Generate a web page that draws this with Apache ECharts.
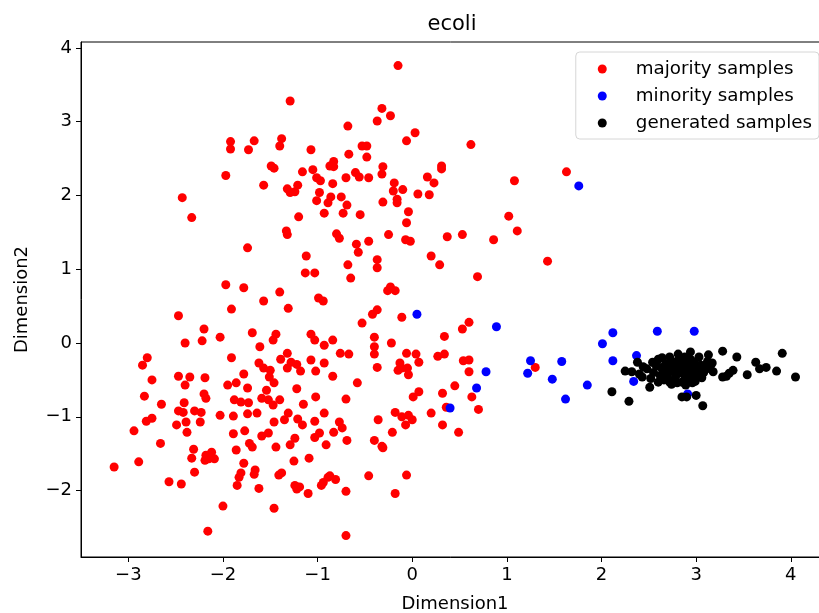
<!DOCTYPE html>
<html>
<head>
<meta charset="utf-8">
<script src="https://cdn.jsdelivr.net/npm/echarts@6/dist/echarts.min.js"></script>
<style>
  html, body { margin: 0; padding: 0; background: #fff; }
  #chart { width: 819px; height: 613px; }
</style>
</head>
<body>
<div id="chart"></div>
<script>
// tick labels
var xTicks = [-3, -2, -1, 0, 1, 2, 3, 4];
var yTicks = [-2, -1, 0, 1, 2, 3, 4];

// majority samples (red)
var majority = [
  [-1.29,3.28],[-1.92,2.73],[-1.92,2.63],[-1.67,2.74],[-1.73,2.62],[-1.38,2.77],[-1.40,2.67],[-1.07,2.62],
  [-1.49,2.40],[-1.46,2.37],[-1.97,2.27],[-1.57,2.14],[-1.16,2.32],[-1.05,2.35],[-1.01,2.24],[-0.97,2.20],
  [-1.32,2.09],[-1.29,2.04],[-1.21,2.14],[-1.24,2.05],[-0.98,2.04],[-1.01,1.93],[-2.43,1.97],[-2.33,1.70],
  [-1.20,1.71],[-0.93,1.76],[-0.89,1.90],[-0.87,2.40],[-0.15,3.76],[-0.32,3.18],[-0.23,3.08],[-0.37,3.01],
  [-0.68,2.94],[0.03,2.85],[-0.06,2.74],[0.62,2.69],[-0.53,2.67],[-0.48,2.67],[-0.67,2.56],[-0.48,2.52],
  [-0.83,2.46],[-0.83,2.39],[-0.70,2.24],[-0.60,2.31],[-0.56,2.25],[-0.46,2.24],[-0.31,2.39],[-0.32,2.29],
  [0.31,2.40],[0.31,2.36],[0.16,2.25],[0.23,2.17],[1.08,2.20],[-0.84,2.16],[-0.19,2.17],[-0.86,1.98],
  [-0.75,1.98],[-0.69,1.87],[-0.20,2.06],[-0.10,2.08],[-0.16,1.95],[-0.16,1.90],[0.06,2.02],[0.18,2.01],
  [-0.31,1.91],[-0.04,1.78],[-0.73,1.76],[-0.55,1.74],[1.02,1.72],[1.63,2.32],[-1.33,1.52],[-1.32,1.47],
  [-1.74,1.29],[-1.12,1.18],[-1.13,0.95],[-1.03,0.95],[-1.97,0.79],[-1.78,0.75],[-1.40,0.69],[-1.57,0.57],
  [-0.99,0.61],[-0.94,0.57],[-1.91,0.46],[-1.31,0.47],[-2.47,0.37],[-2.20,0.19],[-2.40,0.00],[-2.22,0.03],
  [-2.03,0.08],[-1.69,0.14],[-1.44,0.12],[-1.47,0.04],[-1.07,0.12],[-1.03,0.04],[-0.93,-0.03],[-1.61,-0.05],
  [-2.80,-0.20],[-2.85,-0.30],[-1.91,-0.20],[-1.32,-0.14],[-1.39,-0.22],[-1.28,-0.26],[-1.22,-0.29],[-1.32,-0.34],
  [-1.18,-0.38],[-1.07,-0.23],[-1.02,-0.38],[-0.93,-0.27],[-1.62,-0.27],[-1.57,-0.34],[-1.50,-0.37],[-1.78,-0.42],
  [-2.47,-0.45],[-2.35,-0.46],[-2.19,-0.47],[-2.75,-0.50],[-0.06,1.63],[1.11,1.52],[-0.80,1.48],[-0.77,1.42],
  [-0.59,1.34],[-0.57,1.23],[-0.46,1.38],[-0.25,1.47],[-0.07,1.40],[-0.02,1.38],[0.37,1.44],[0.53,1.47],
  [0.86,1.40],[-0.68,1.06],[-0.65,0.88],[-0.37,1.13],[-0.37,1.02],[0.20,1.18],[0.29,1.06],[0.69,0.90],
  [1.43,1.11],[-0.23,0.76],[-0.26,0.71],[-0.18,0.71],[-0.37,0.45],[-0.42,0.39],[-0.11,0.35],[-0.53,0.27],
  [0.60,0.28],[0.53,0.19],[-0.84,0.04],[-0.40,0.08],[-0.22,0.00],[0.34,0.09],[-0.40,-0.05],[-0.40,-0.15],
  [-0.76,-0.14],[-0.67,-0.15],[-0.06,-0.14],[0.04,-0.15],[0.07,-0.26],[0.27,-0.18],[0.34,-0.15],[0.54,-0.24],
  [0.60,-0.23],[-0.37,-0.33],[-0.13,-0.27],[-0.11,-0.34],[-0.15,-0.37],[-0.04,-0.43],[-0.05,-0.34],[-0.84,-0.45],
  [0.60,-0.39],[1.30,-0.33],[-2.40,-0.57],[-1.95,-0.57],[-1.86,-0.54],[-1.74,-0.61],[-1.51,-0.46],[-1.46,-0.54],
  [-1.22,-0.62],[-1.02,-0.73],[-2.83,-0.72],[-2.65,-0.83],[-2.41,-0.81],[-2.47,-0.92],[-2.42,-0.94],[-2.30,-0.92],
  [-2.23,-0.94],[-2.20,-0.69],[-2.18,-0.75],[-2.03,-0.98],[-1.89,-0.99],[-1.88,-0.77],[-1.81,-0.80],[-1.73,-0.81],
  [-1.59,-0.75],[-1.52,-0.77],[-1.47,-0.84],[-1.40,-0.77],[-1.54,-0.64],[-1.64,-0.95],[-1.74,-0.96],[-1.46,-1.07],
  [-1.35,-1.04],[-1.31,-0.95],[-1.21,-1.03],[-1.16,-1.11],[-1.15,-0.83],[-1.03,-1.06],[-0.93,-0.95],[-2.94,-1.19],
  [-2.81,-1.06],[-2.75,-1.02],[-2.49,-1.11],[-2.39,-1.07],[-2.38,-1.21],[-2.24,-1.07],[-2.66,-1.36],[-1.89,-1.23],
  [-1.77,-1.19],[-1.59,-1.26],[-1.52,-1.22],[-1.72,-1.36],[-1.69,-1.41],[-1.86,-1.45],[-1.44,-1.41],[-1.29,-1.38],
  [-1.24,-1.29],[-1.03,-1.28],[-0.98,-1.22],[-0.91,-1.38],[-2.31,-1.44],[-2.33,-1.56],[-2.18,-1.52],[-2.12,-1.48],
  [-2.09,-1.57],[-2.15,-1.57],[-2.19,-1.59],[-3.15,-1.68],[-2.89,-1.61],[-2.30,-1.75],[-1.78,-1.63],[-1.81,-1.76],
  [-1.83,-1.82],[-1.66,-1.72],[-1.67,-1.78],[-1.25,-1.60],[-1.09,-1.56],[-1.41,-1.79],[-1.38,-1.76],[-2.57,-1.88],
  [-2.44,-1.91],[-1.85,-1.93],[-1.62,-1.97],[-1.24,-1.93],[-1.19,-1.95],[-1.22,-1.98],[-1.10,-2.04],[-0.96,-1.93],
  [-0.89,-1.82],[-2.00,-2.21],[-1.46,-2.24],[-2.16,-2.55],[0.45,-0.58],[0.32,-0.68],[0.63,-0.73],[0.70,-0.90],
  [0.36,-0.87],[-0.58,-0.54],[-0.70,-0.76],[0.07,-0.66],[0.01,-0.73],[0.20,-0.95],[0.32,-1.11],[0.49,-1.21],
  [-0.18,-0.94],[-0.11,-1.00],[-0.04,-0.98],[0.00,-1.04],[-0.07,-1.11],[-0.36,-1.04],[-0.21,-1.21],[-0.77,-1.07],
  [-0.83,-1.21],[-0.74,-1.15],[-0.69,-1.32],[-0.40,-1.32],[-0.32,-1.40],[-0.31,-1.42],[-0.46,-1.80],[-0.06,-1.79],
  [-0.87,-1.80],[-0.81,-1.85],[-0.94,-1.89],[-0.70,-2.01],[-0.18,-2.04],[-0.70,-2.61]
];

// minority samples (blue)
var minority = [
  [0.05,0.39],[0.89,0.22],[0.68,-0.61],[0.40,-0.88],[0.78,-0.39],[1.25,-0.24],[1.22,-0.41],[1.76,2.13],
  [2.12,0.14],[2.59,0.16],[2.98,0.16],[2.01,-0.01],[1.58,-0.25],[2.12,-0.24],[2.37,-0.17],[1.48,-0.49],
  [1.85,-0.57],[1.62,-0.76],[2.34,-0.52],[2.91,-0.69]
];

// generated samples (black)
var generated = [
  [2.11,-0.66],[2.29,-0.79],[3.07,-0.85],[2.85,-0.73],[2.90,-0.73],[3.00,-0.71],[2.38,-0.26],[2.25,-0.38],
  [2.32,-0.39],[3.28,-0.11],[3.43,-0.19],[3.63,-0.26],[3.67,-0.35],[3.74,-0.33],[3.91,-0.14],[3.85,-0.38],
  [4.05,-0.46],[3.54,-0.43],[3.39,-0.37],[3.35,-0.41],[3.28,-0.46],[3.32,-0.45],[3.13,-0.16],[3.03,-0.19],
  [3.17,-0.27],[3.18,-0.39],[2.80,-0.54],[2.54,-0.26],[2.64,-0.20],[2.72,-0.19],[2.81,-0.15],[2.88,-0.19],
  [2.94,-0.12],[2.43,-0.46],[2.51,-0.60],[2.60,-0.53],[2.72,-0.53],[2.85,-0.53],[2.96,-0.54],[3.06,-0.47],
  [2.48,-0.35],[2.55,-0.40],[2.58,-0.31],[2.62,-0.44],[2.65,-0.36],[2.68,-0.28],[2.70,-0.42],[2.73,-0.33],
  [2.75,-0.25],[2.77,-0.38],[2.78,-0.47],[2.80,-0.30],[2.82,-0.22],[2.83,-0.40],[2.85,-0.34],[2.87,-0.27],
  [2.88,-0.45],[2.90,-0.38],[2.92,-0.30],[2.94,-0.22],[2.95,-0.42],[2.97,-0.35],[2.99,-0.28],[3.01,-0.44],
  [3.03,-0.37],[3.05,-0.30],[3.08,-0.40],[3.10,-0.33],[3.12,-0.25],[2.52,-0.48],[2.60,-0.22],[2.66,-0.50],
  [2.74,-0.56],[2.89,-0.57],[2.99,-0.52],[2.44,-0.32],[2.40,-0.42],[2.56,-0.27],[2.71,-0.37],[2.79,-0.43],
  [2.86,-0.41],[2.93,-0.48],[3.15,-0.35],[2.63,-0.33],[2.81,-0.35],[2.96,-0.25],[2.69,-0.45],[2.76,-0.29]
];

var font = 'DejaVu Sans';
var fs = 18;
function minusFmt(v) {
  return String(v).replace('-', '\u2212');
}

var myChart = echarts.init(document.getElementById('chart'));
var option = {
  animation: false,
  backgroundColor: '#fff',
  textStyle: { fontFamily: font, color: '#000' },
  title: {
    text: 'ecoli',
    left: 447,
    textAlign: 'center',
    top: 9,
    textStyle: { fontFamily: font, fontSize: 21, fontWeight: 'normal', color: '#000' }
  },
  legend: {
    orient: 'vertical',
    right: 0,
    top: 52,
    padding: [8, 7, 7, 22],
    itemGap: 9,
    itemWidth: 9,
    itemHeight: 9,
    icon: 'circle',
    backgroundColor: '#fff',
    borderColor: '#d6d6d6',
    borderWidth: 1,
    borderRadius: 4,
    textStyle: { fontFamily: font, fontSize: 18.3, color: '#000', padding: [0, 0, 0, 24] },
    data: ['majority samples', 'minority samples', 'generated samples']
  },
  grid: {
    left: 81,
    right: -10,
    top: 42,
    bottom: 56,
    outerBoundsMode: 'none',
    show: true,
    borderColor: '#000',
    borderWidth: 1
  },
  xAxis: {
    type: 'value',
    min: -3.5,
    max: 4.404,
    name: 'Dimension1',
    nameLocation: 'middle',
    nameGap: 38,
    nameTextStyle: { fontFamily: font, fontSize: fs, color: '#000' },
    splitLine: { show: false },
    axisLine: { show: true, onZero: false, lineStyle: { color: '#000', width: 1 } },
    axisTick: { show: true, length: 5, lineStyle: { color: '#000' }, customValues: xTicks },
    axisLabel: { fontFamily: font, fontSize: fs, color: '#000', margin: 9, customValues: xTicks, formatter: minusFmt }
  },
  yAxis: {
    type: 'value',
    min: -2.9,
    max: 4.08,
    name: 'Dimension2',
    nameLocation: 'middle',
    nameGap: 50,
    nameTextStyle: { fontFamily: font, fontSize: fs, color: '#000' },
    splitLine: { show: false },
    axisLine: { show: true, onZero: false, lineStyle: { color: '#000', width: 1 } },
    axisTick: { show: true, length: 5, lineStyle: { color: '#000' }, customValues: yTicks },
    axisLabel: { fontFamily: font, fontSize: fs, color: '#000', margin: 9, customValues: yTicks, formatter: minusFmt }
  },
  series: [
    {
      name: 'majority samples',
      type: 'scatter',
      symbolSize: 9,
      itemStyle: { color: '#ff0000', opacity: 1 },
      data: majority
    },
    {
      name: 'minority samples',
      type: 'scatter',
      symbolSize: 9,
      itemStyle: { color: '#0000ff', opacity: 1 },
      data: minority
    },
    {
      name: 'generated samples',
      type: 'scatter',
      symbolSize: 9,
      itemStyle: { color: '#000000', opacity: 1 },
      data: generated
    }
  ]
};
myChart.setOption(option);
</script>
</body>
</html>
